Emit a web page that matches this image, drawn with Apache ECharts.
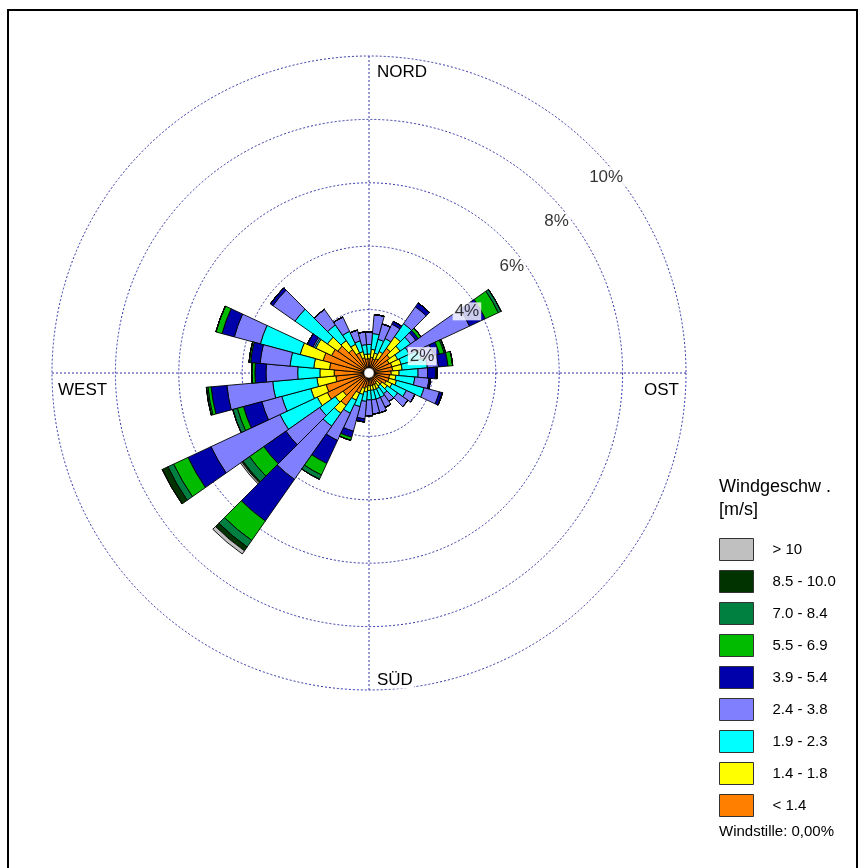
<!DOCTYPE html>
<html>
<head>
<meta charset="utf-8">
<script src="https://cdn.jsdelivr.net/npm/echarts@6/dist/echarts.min.js"></script>
<style>
html,body{margin:0;padding:0;background:#fff;}
#chart{width:859px;height:868px;}
</style>
</head>
<body>
<div id="chart"></div>
<script>
// Directions (sector centres, degrees clockwise from north)
const directions = ['0','10','20','30','40','50','60','70','80','90','100','110','120','130','140','150','160','170',
  '180','190','200','210','220','230','240','250','260','270','280','290','300','310','320','330','340','350'];

// Frequency (%) per wind-speed class and direction
const cls_lt14   = [0.45,0.50,0.45,0.50,0.95,0.80,0.70,0.75,0.75,0.70,0.65,0.65,0.60,0.50,0.35,0.40,0.40,0.40,0.40,0.45,0.50,0.70,1.25,1.00,1.45,1.40,1.05,1.10,1.25,1.50,1.30,1.20,0.90,0.70,0.50,0.45];
const cls_14_18  = [0.15,0.25,0.20,0.25,0.45,0.40,0.30,0.30,0.30,0.25,0.20,0.25,0.20,0.20,0.15,0.15,0.15,0.15,0.15,0.15,0.20,0.25,0.30,0.30,0.35,0.50,0.60,0.45,0.50,0.75,0.55,0.40,0.35,0.30,0.20,0.15];
const cls_19_23  = [0.30,0.50,0.45,0.45,0.50,0.40,0.40,0.65,0.80,0.60,0.60,0.90,0.50,0.40,0.30,0.30,0.30,0.30,0.30,0.30,0.40,0.45,0.50,0.60,1.30,0.95,1.40,0.70,0.75,1.30,0.05,1.25,0.60,0.45,0.35,0.30];
const cls_24_38  = [0.40,0.60,0.50,0.50,0.65,0.20,2.10,0.40,0.35,0.30,0.45,0.50,0.30,0.40,0.30,0.35,0.45,0.45,0.50,0.55,0.80,0.95,2.05,1.30,2.40,0.65,1.45,1.00,0.95,0.85,0.05,0.85,0.60,0.50,0.35,0.40];
const cls_39_54  = [0,0,0,0.10,0.15,0.10,0.55,0.20,0.30,0.25,0.05,0.10,0,0,0,0,0,0,0,0.10,0.20,0.80,1.60,0.85,0.80,0.60,0.50,0.35,0.30,0.40,0.20,0.10,0,0,0,0];
const cls_55_69  = [0,0,0,0,0,0.10,0.45,0.15,0.15,0.05,0,0,0,0,0,0,0,0,0,0,0.10,0.40,0.75,0.55,0.50,0.20,0.10,0.10,0.05,0.20,0,0,0,0,0,0];
const cls_70_84  = [0,0,0,0,0,0,0.10,0.05,0,0,0,0,0,0,0,0,0,0,0,0,0,0.15,0.25,0.25,0.20,0.15,0.05,0,0,0,0,0,0,0,0,0];
const cls_85_100 = [0,0,0,0,0,0,0,0,0,0,0,0,0,0,0,0,0,0,0,0,0,0,0.15,0.05,0.20,0,0,0,0,0,0,0,0,0,0,0];
const cls_gt10   = [0,0,0,0,0,0,0,0,0,0,0,0,0,0,0,0,0,0,0,0,0,0,0.12,0.05,0,0,0,0,0,0,0,0,0,0,0,0];

const classNames = ['< 1.4','1.4 - 1.8','1.9 - 2.3','2.4 - 3.8','3.9 - 5.4','5.5 - 6.9','7.0 - 8.4','8.5 - 10.0','> 10'];
const classData = [cls_lt14, cls_14_18, cls_19_23, cls_24_38, cls_39_54, cls_55_69, cls_70_84, cls_85_100, cls_gt10];
const classColors = ['#ff8000','#ffff00','#00ffff','#8080ff','#0000aa','#00bb00','#008040','#003300','#c0c0c0'];

const ringTicks = [2,4,6,8,10];
const compass = ['NORD','OST','SÜD','WEST'];
const legendTitle = ['Windgeschw .','[m/s]'];
const calmText = 'Windstille: 0,00%';

const CX = 369, CY = 373, R = 317;
const FONT = '"Liberation Sans", Arial, sans-serif';
const RING = '#3333a6';

const chart = echarts.init(document.getElementById('chart'), null, {renderer:'canvas'});

const barSeries = classNames.map((n,i)=>({
  name: n,
  type: 'bar',
  coordinateSystem: 'polar',
  polarIndex: 0,
  stack: 'rose',
  data: classData[i],
  barCategoryGap: '0%',
  itemStyle: {color: classColors[i], borderColor: '#000', borderWidth: 0.9},
  emphasis: {disabled: true},
  z: 3
}));

const labelSeries = {
  type: 'scatter',
  coordinateSystem: 'polar',
  polarIndex: 1,
  symbolSize: 0,
  data: ringTicks.map(v=>[v,45]),
  z: 10,
  label: {
    show: true,
    position: 'inside',
    align: 'left',
    verticalAlign: 'middle',
    offset: [-6, 28],
    formatter: p => p.value[0] + '%',
    fontFamily: FONT,
    fontSize: 17,
    color: '#000',
    backgroundColor: '#fff',
    padding: [1,2,0,2]
  },
  silent: true
};

const hidden = {show:false};
const option = {
  animation: false,
  backgroundColor: '#fff',
  polar: [
    {center:[CX,CY], radius:[0,R]},
    {center:[CX,CY], radius:[0,R]}
  ],
  angleAxis: [
    {polarIndex:0, type:'category', data:directions, startAngle:95, clockwise:true,
     axisLine:hidden, axisTick:hidden, axisLabel:hidden, splitLine:hidden},
    {polarIndex:1, type:'value', min:0, max:360, interval:90, startAngle:90, clockwise:true,
     axisLine:hidden, axisTick:hidden, axisLabel:hidden,
     splitLine:{show:true, lineStyle:{color:RING, type:[2,2], width:1}}}
  ],
  radiusAxis: [
    {polarIndex:0, type:'value', min:0, max:10, interval:2,
     axisLine:hidden, axisTick:hidden, axisLabel:hidden,
     splitLine:{show:true, lineStyle:{color:RING, type:[2,2], width:1}}},
    {polarIndex:1, type:'value', min:0, max:10, interval:2,
     axisLine:hidden, axisTick:hidden, axisLabel:hidden, splitLine:hidden}
  ],
  legend: {
    orient: 'vertical',
    left: 719, top: 538,
    padding: 0,
    itemWidth: 34, itemHeight: 22, itemGap: 9,
    icon: 'rect',
    selectedMode: false,
    data: classNames.slice().reverse(),
    itemStyle: {borderColor:'#333', borderWidth:1},
    textStyle: {fontFamily: FONT, fontSize: 15, color:'#000', lineHeight: 18, padding:[0,0,0,14]}
  },
  series: [...barSeries, labelSeries],
  graphic: [
    {type:'rect', shape:{x:8,y:10,width:849,height:875}, style:{fill:'none', stroke:'#000', lineWidth:2}, silent:true},
    {type:'circle', shape:{cx:CX, cy:CY, r:5}, style:{fill:'#fff', stroke:'#333', lineWidth:0.5}, z:100, silent:true},
    {type:'text', x:CX+7, y:CY-R+16, z:50, style:{text:compass[0], font:'17px '+FONT, fill:'#000', textVerticalAlign:'middle', backgroundColor:'#fff', padding:[0,1]}},
    {type:'text', x:CX+R-43, y:CY+17, z:50, style:{text:compass[1], font:'17px '+FONT, fill:'#000', textVerticalAlign:'middle', backgroundColor:'#fff', padding:[0,1]}},
    {type:'text', x:CX+7, y:CY+R-10, z:50, style:{text:compass[2], font:'17px '+FONT, fill:'#000', textVerticalAlign:'middle', backgroundColor:'#fff', padding:[0,1]}},
    {type:'text', x:CX-R+5, y:CY+17, z:50, style:{text:compass[3], font:'17px '+FONT, fill:'#000', textVerticalAlign:'middle', backgroundColor:'#fff', padding:[0,1]}},
    {type:'text', x:719, y:487, style:{text:legendTitle[0], font:'18px '+FONT, fill:'#000', textVerticalAlign:'middle'}},
    {type:'text', x:719, y:510, style:{text:legendTitle[1], font:'18px '+FONT, fill:'#000', textVerticalAlign:'middle'}},
    {type:'text', x:719, y:832, style:{text:calmText, font:'15px '+FONT, fill:'#000', textVerticalAlign:'middle'}}
  ]
};
chart.setOption(option);
</script>
</body>
</html>
